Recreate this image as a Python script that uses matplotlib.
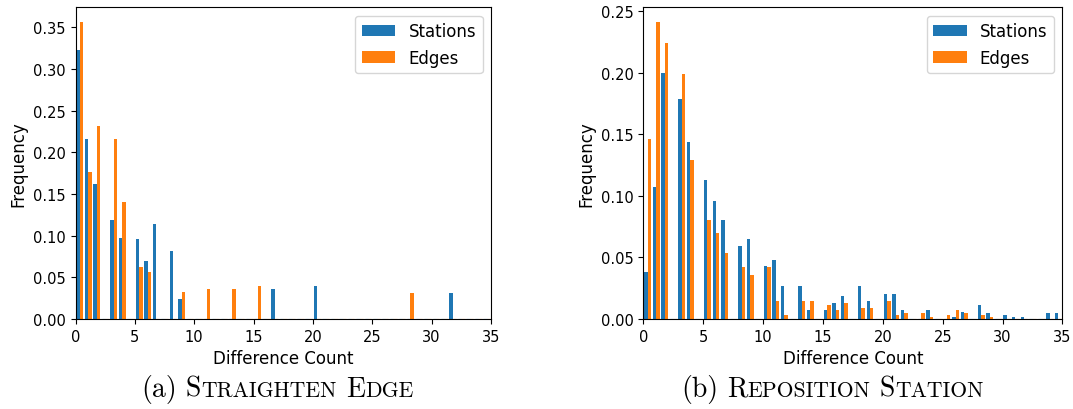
import numpy as np
import matplotlib
matplotlib.use('Agg')
import matplotlib.pyplot as plt

# difference counts (integers) and their frequencies
diff_values = np.arange(0, 36)

# (a) Straighten Edge
straighten_stations = [0.323, 0.216, 0.162, 0.119, 0.097, 0.096, 0.070, 0.114, 0.082, 0.024,
                       0, 0, 0, 0, 0, 0, 0, 0.036, 0, 0,
                       0.040, 0, 0, 0, 0, 0, 0, 0, 0, 0,
                       0, 0, 0.031, 0, 0, 0]
straighten_edges = [0.356, 0.176, 0.231, 0.216, 0.140, 0.062, 0.056, 0, 0, 0.032,
                    0, 0.036, 0, 0.036, 0, 0.040, 0, 0, 0, 0,
                    0, 0, 0, 0, 0, 0, 0, 0, 0.031, 0,
                    0, 0, 0, 0, 0, 0]

# (b) Reposition Station
reposition_stations = [0.038, 0.107, 0.200, 0.179, 0.144, 0.113, 0.096, 0.080, 0.059, 0.065,
                       0.043, 0.048, 0.027, 0.027, 0.007, 0.007, 0.013, 0.019, 0.027, 0.015,
                       0.020, 0.020, 0.007, 0, 0.007, 0, 0.0016, 0.0057, 0.011, 0.005,
                       0.003, 0.0016, 0.0016, 0, 0.005, 0.005]
reposition_edges = [0.146, 0.241, 0.224, 0.199, 0.129, 0.080, 0.070, 0.054, 0.042, 0.036,
                    0.042, 0.015, 0.003, 0.015, 0.015, 0.011, 0.007, 0.013, 0.009, 0.009,
                    0.015, 0.003, 0.005, 0.005, 0.0016, 0.003, 0.007, 0.005, 0.003, 0.0016,
                    0, 0, 0, 0, 0, 0]

series_labels = ['Stations', 'Edges']
bin_edges = np.arange(50) * 5 / 7   # 49 bins over 0..35


def plot_hist(ax, stations, edges):
    _, _, bars = ax.hist([diff_values, diff_values], bins=bin_edges,
                         weights=[stations, edges], color=['#1f77b4', '#ff7f0e'],
                         label=series_labels)
    # empty bins show up as a thin line on the baseline
    for group in bars:
        for p in group:
            if p.get_height() == 0:
                p.set_edgecolor(p.get_facecolor())
                p.set_linewidth(0.8)
    ax.set_xlim(0, 35)
    ax.set_xlabel('Difference Count', fontsize=12)
    ax.set_ylabel('Frequency', fontsize=12)
    ax.tick_params(labelsize=10.5)
    ax.legend(loc='upper right', fontsize=12)


def caption(fig, x_px, y_px, prefix, title, size=20):
    # LaTeX-like small caps: first letter full size, rest as smaller capitals
    renderer = fig.canvas.get_renderer()
    runs = [(prefix, size), (' ', size)]
    for i, word in enumerate(title.split()):
        if i:
            runs.append((' ', size))
        runs.append((word[0], size))
        runs.append((word[1:].upper(), size * 0.78))
    items = []
    for s, fs in runs:
        if s == ' ':
            items.append((None, fs * 0.333 * fig.dpi / 72))
            continue
        t = fig.text(0, y_px / fig.bbox.height, s, fontsize=fs, family='cmr10',
                     ha='left', va='baseline')
        items.append((t, t.get_window_extent(renderer).width))
    total = sum(w for _, w in items)
    x = x_px - total / 2
    for t, w in items:
        if t is not None:
            t.set_x(x / fig.bbox.width)
        x += w


fig = plt.figure(figsize=(10.73, 4.10), dpi=100)
ax1 = fig.add_axes([0.0704, 0.2195, 0.3872, 0.760])
ax2 = fig.add_axes([0.5995, 0.2195, 0.3907, 0.760])

plot_hist(ax1, straighten_stations, straighten_edges)
plot_hist(ax2, reposition_stations, reposition_edges)

caption(fig, 277, 13, '(a)', 'Straighten Edge')
caption(fig, 832, 13, '(b)', 'Reposition Station')

fig.savefig('out.png', dpi=100)
